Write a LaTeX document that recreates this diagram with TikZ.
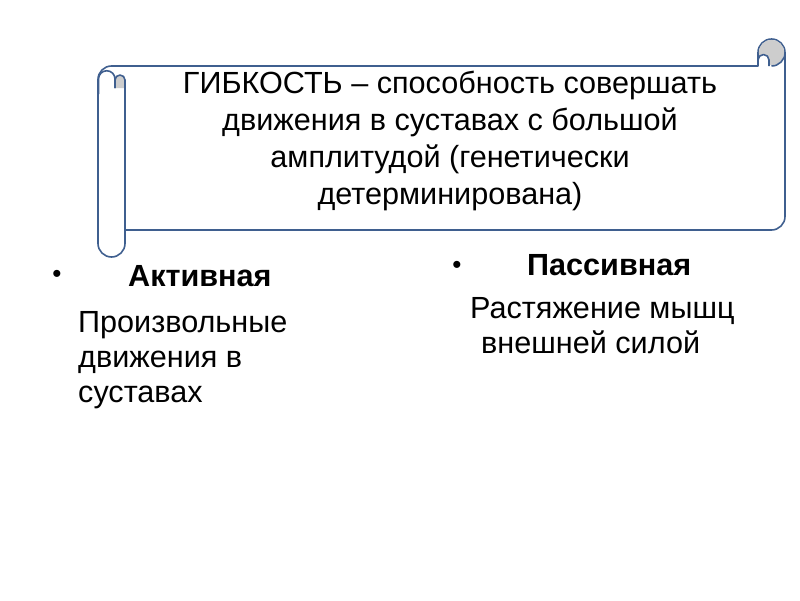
\documentclass[tikz,border=0pt]{standalone}
\usepackage{fontspec}
\setmainfont{Liberation Sans}
\definecolor{scrollline}{HTML}{3F5F8F}
\definecolor{curlgray}{HTML}{CDCDCD}
\begin{document}
\begin{tikzpicture}[x=1pt, y=-1pt,
    scroll/.style={draw=scrollline, line width=1.6pt, line join=round},
    title text/.style={align=center, inner sep=0pt, font=\fontsize{30.6}{37}\selectfont},
    head text/.style={anchor=base west, inner sep=0pt, font=\fontsize{30.6}{36}\selectfont\bfseries},
    body text/.style={anchor=base west, inner sep=0pt, font=\fontsize{30.6}{36}\selectfont},
    bullet/.style={inner sep=0pt, font=\fontsize{26}{30}\selectfont}]

    \useasboundingbox (0,0) rectangle (800,600);

    % Scroll outline
    \draw[scroll, fill=white] (98,243.5) -- (98,79.5) arc[start angle=180, end angle=270, radius=13.5]
        -- (758,66) -- (758,52.5) arc[start angle=180, end angle=360, radius=13.5]
        -- (785,216.5) arc[start angle=0, end angle=90, radius=13.5]
        -- (125,230) -- (125,243.5) arc[start angle=0, end angle=180, radius=13.5] -- cycle;

    % Right curl
    \fill[curlgray] (771.5,52.5) circle[radius=12.7];
    \draw[scroll] (785,52.5) arc[start angle=0, end angle=90, radius=13.5];
    \draw[scroll, fill=white] (758,66) -- (758,60) arc[start angle=180, end angle=360, radius=5.5] -- (769,66);

    % Left curl
    \draw[scroll] (98.5,94) -- (98.5,79) arc[start angle=180, end angle=360, radius=8.25] -- (115,88);
    \fill[curlgray] (115,88) -- (115,80) arc[start angle=180, end angle=360, radius=5] -- (125,88) -- cycle;
    \draw[scroll] (115,88) -- (115,80) arc[start angle=180, end angle=360, radius=5] -- (125,230);

    % Definition
    \node[title text] (title) at (450,141) {ГИБКОСТЬ – способность совершать\\движения в суставах с большой\\амплитудой (генетически\\детерминирована)};

    % Bullets
    \node[bullet] (bullet-1) at (57,276) {•};
    \node[bullet] (bullet-2) at (457,267) {•};

    % Active flexibility
    \node[head text] (active) at (128,286) {Активная};
    \foreach \txt [count=\i] in {Произвольные, движения в, суставах} {
        \node[body text] (active-\i) at (78,297+35*\i) {\txt};
    }

    % Passive flexibility
    \node[head text] (passive) at (527,275) {Пассивная};
    \node[body text] (passive-1) at (470,318) {Растяжение мышц};
    \node[body text] (passive-2) at (481,353.5) {внешней силой};

\end{tikzpicture}
\end{document}
